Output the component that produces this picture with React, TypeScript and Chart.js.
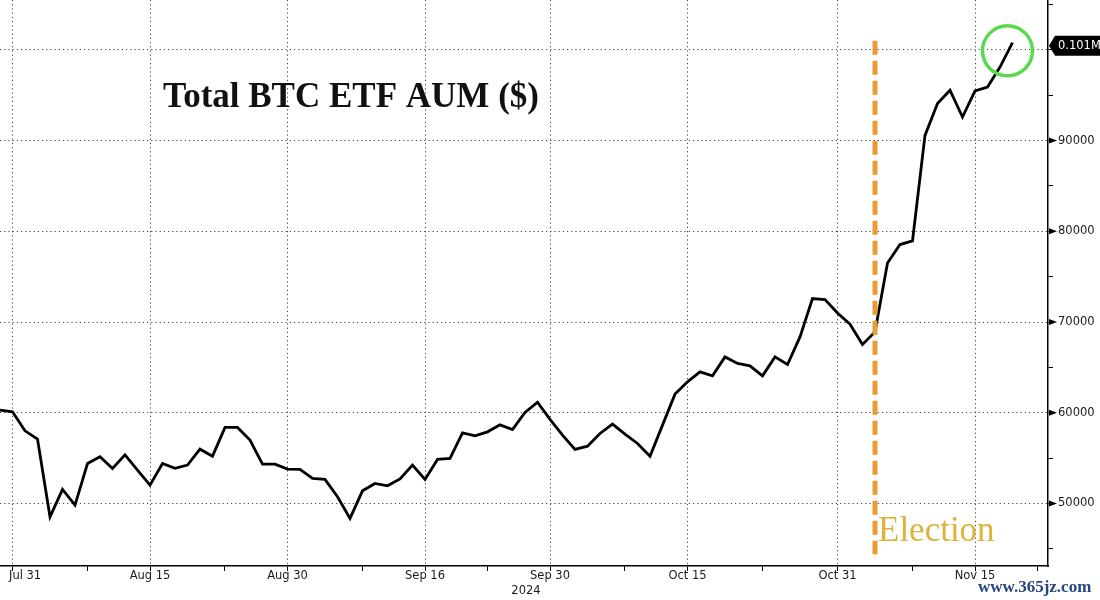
import React, { useEffect, useRef } from "react";
import { Chart, registerables } from "chart.js";

Chart.register(...registerables);

// ---------- data ----------
const dates: string[] = [
  "Jul 30", "Jul 31",
  "Aug 1", "Aug 2", "Aug 5", "Aug 6", "Aug 7", "Aug 8", "Aug 9", "Aug 12", "Aug 13", "Aug 14", "Aug 15",
  "Aug 16", "Aug 19", "Aug 20", "Aug 21", "Aug 22", "Aug 23", "Aug 26", "Aug 27", "Aug 28", "Aug 29", "Aug 30",
  "Sep 2", "Sep 3", "Sep 4", "Sep 5", "Sep 6", "Sep 9", "Sep 10", "Sep 11", "Sep 12", "Sep 13", "Sep 16",
  "Sep 17", "Sep 18", "Sep 19", "Sep 20", "Sep 23", "Sep 24", "Sep 25", "Sep 26", "Sep 27", "Sep 30",
  "Oct 1", "Oct 2", "Oct 3", "Oct 4", "Oct 7", "Oct 8", "Oct 9", "Oct 10", "Oct 11", "Oct 14", "Oct 15",
  "Oct 16", "Oct 17", "Oct 18", "Oct 21", "Oct 22", "Oct 23", "Oct 24", "Oct 25", "Oct 28", "Oct 29", "Oct 30", "Oct 31",
  "Nov 1", "Nov 4", "Nov 5", "Nov 6", "Nov 7", "Nov 8", "Nov 11", "Nov 12", "Nov 13", "Nov 14", "Nov 15",
  "Nov 18", "Nov 19", "Nov 20",
];

const aumValues: number[] = [
  60280, 60100,
  58000, 57100, 48520, 51540, 49810, 54400, 55140, 53860, 55360, 53670, 52020,
  54400, 53860, 54220, 55980, 55210, 58380, 58380, 56980, 54330, 54330, 53780,
  53750, 52750, 52650, 50730, 48350, 51390, 52200, 51940, 52700, 54220, 52640,
  54850, 54960, 57780, 57450, 57890, 58660, 58150, 60030, 61160, 59260,
  57530, 55950, 56310, 57710, 58740, 57640, 56610, 55210, 58630, 62050, 63400,
  64500, 64060, 66150, 65430, 65160, 64060, 66150, 65320, 68360, 72590, 72480, 71000,
  69760, 67520, 68910, 76510, 78540, 78940, 90570, 94080, 95550, 92600, 95470,
  95910, 98110, 100800,
];

const axisExtraDates: string[] = ["Nov 21", "Nov 22"];
const xLabelDates: string[] = ["Jul 31", "Aug 15", "Aug 30", "Sep 16", "Sep 30", "Oct 15", "Oct 31", "Nov 15"];
const xMinorDates: string[] = ["Aug 8", "Aug 23", "Sep 9", "Sep 23", "Oct 8", "Oct 23", "Nov 8", "Nov 22"];
const yearLabel = "2024";
const yearUnderDate = "Sep 30";

const yAllTicks: number[] = [45000, 50000, 55000, 60000, 65000, 70000, 75000, 80000, 85000, 90000, 95000, 100000, 105000];
const yGridTicks: number[] = [50000, 60000, 70000, 80000, 90000, 100000];
const yLabelTicks: number[] = [50000, 60000, 70000, 80000, 90000];
const yMin = 43100;
const yMax = 105500;
const xAxisEnd = 83.84;

const electionDate = "Nov 5";
const electionLabel = "Election";
const electionTop = 101000;
const electionBottom = 44400;

const titleText = "Total BTC ETF AUM ($)";
const lastValueLabel = "0.101M";
const watermark = "www.365jz.com";
const circleCenterIdx = 80.6;
const circleCenterValue = 99900;

// ---------- chart ----------
const allDates = [...dates, ...axisExtraDates];
const idxOf = (d: string) => allDates.indexOf(d);
const FONT = '"DejaVu Sans", sans-serif';

const overlay = {
  id: "overlay",
  afterDatasetsDraw(chart: any) {
    const { ctx, scales } = chart;
    const x = scales.x;
    const y = scales.y;
    const ex = x.getPixelForValue(idxOf(electionDate));
    ctx.save();
    ctx.strokeStyle = "#EB9A35";
    ctx.lineWidth = 5;
    ctx.setLineDash([14, 6]);
    ctx.beginPath();
    ctx.moveTo(ex, y.getPixelForValue(electionTop));
    ctx.lineTo(ex, y.getPixelForValue(electionBottom));
    ctx.stroke();
    ctx.restore();
  },
  afterDraw(chart: any) {
    const { ctx, scales, chartArea } = chart;
    const x = scales.x;
    const y = scales.y;
    ctx.save();

    // x labels
    ctx.font = `11.5px ${FONT}`;
    ctx.fillStyle = "#1a1a1a";
    ctx.textBaseline = "top";
    ctx.textAlign = "left";
    xLabelDates.forEach((d) => {
      const px = x.getPixelForValue(idxOf(d));
      const w = ctx.measureText(d).width;
      const left = Math.max(px - w / 2, chartArea.left + 9);
      ctx.fillText(d, left, chartArea.bottom + 4);
    });
    {
      const px = x.getPixelForValue(idxOf(yearUnderDate));
      ctx.textAlign = "center";
      ctx.fillText(yearLabel, px - 24, chartArea.bottom + 19);
    }

    // y triangles
    ctx.fillStyle = "#000";
    yLabelTicks.forEach((v) => {
      const py = y.getPixelForValue(v);
      ctx.beginPath();
      ctx.moveTo(chartArea.right + 1, py - 3);
      ctx.lineTo(chartArea.right + 1, py + 3);
      ctx.lineTo(chartArea.right + 9, py);
      ctx.closePath();
      ctx.fill();
    });

    // last value box
    const lastV = aumValues[aumValues.length - 1];
    const ly = y.getPixelForValue(lastV) + 3;
    const bx = chartArea.right + 1;
    ctx.fillStyle = "#000";
    ctx.beginPath();
    ctx.moveTo(bx, ly);
    ctx.lineTo(bx + 6, ly - 10);
    ctx.lineTo(1100, ly - 10);
    ctx.lineTo(1100, ly + 10);
    ctx.lineTo(bx + 6, ly + 10);
    ctx.closePath();
    ctx.fill();
    ctx.fillStyle = "#fff";
    ctx.font = `11.5px ${FONT}`;
    ctx.textAlign = "left";
    ctx.textBaseline = "middle";
    ctx.fillText(lastValueLabel, bx + 9, ly);

    // green circle
    ctx.strokeStyle = "#5BD94E";
    ctx.lineWidth = 3.5;
    ctx.beginPath();
    ctx.arc(x.getPixelForValue(circleCenterIdx), y.getPixelForValue(circleCenterValue), 25, 0, Math.PI * 2);
    ctx.stroke();

    // title
    ctx.fillStyle = "#111";
    ctx.font = 'bold 35px "Liberation Serif", serif';
    ctx.textAlign = "left";
    ctx.textBaseline = "alphabetic";
    ctx.fillText(titleText, 163, 107);

    // election label
    const ex = x.getPixelForValue(idxOf(electionDate));
    ctx.fillStyle = "#DDB33C";
    ctx.font = '35px "Liberation Serif", serif';
    ctx.fillText(electionLabel, ex + 3, 541);

    // watermark
    ctx.fillStyle = "#26477F";
    ctx.font = 'bold 17px "Liberation Serif", serif';
    ctx.fillText(watermark, 978, 592);

    ctx.restore();
  },
};

export default function App() {
  const canvasRef = useRef<HTMLCanvasElement | null>(null);

  useEffect(() => {
    if (!canvasRef.current) return;
    const xTickIdx = [...xLabelDates, ...xMinorDates].map(idxOf).sort((a, b) => a - b);
    const xLabelIdx = new Set(xLabelDates.map(idxOf));
    const yGridSet = new Set(yGridTicks);

    const chart = new Chart(canvasRef.current, {
      type: "line",
      data: {
        datasets: [
          {
            label: "Total BTC ETF AUM",
            data: aumValues.map((v, i) => ({ x: i, y: v })),
            borderColor: "#000",
            borderWidth: 2.8,
            pointRadius: 0,
            tension: 0,
            fill: false,
          },
        ],
      },
      options: {
        animation: false,
        responsive: false,
        devicePixelRatio: 1,
        layout: { padding: 0 },
        plugins: { legend: { display: false }, tooltip: { enabled: false }, title: { display: false } },
        scales: {
          x: {
            type: "linear",
            min: 0,
            max: xAxisEnd,
            afterBuildTicks: (axis: any) => {
              axis.ticks = xTickIdx.map((v) => ({ value: v }));
            },
            afterFit: (scale: any) => {
              scale.height = 34;
              scale.paddingLeft = 0;
              scale.paddingRight = 0;
            },
            ticks: { display: false, autoSkip: false, maxRotation: 0 },
            grid: {
              color: (c: any) => (c.tick && xLabelIdx.has(c.tick.value) ? "#444" : "transparent"),
              lineWidth: 1,
              tickColor: "#000",
              tickLength: 5,
              tickWidth: 1,
            },
            border: { display: true, color: "#000", width: 1.5, dash: [1.2, 3] },
          },
          y: {
            type: "linear",
            position: "right",
            min: yMin,
            max: yMax,
            afterBuildTicks: (axis: any) => {
              axis.ticks = yAllTicks.map((v) => ({ value: v }));
            },
            afterFit: (scale: any) => {
              scale.width = 52;
              scale.paddingTop = 0;
              scale.paddingBottom = 0;
            },
            ticks: {
              autoSkip: false,
              padding: 5,
              color: "#1a1a1a",
              font: { family: FONT, size: 11.5 },
              callback: (v: any) => (yLabelTicks.includes(Number(v)) ? String(v) : ""),
            },
            grid: {
              color: (c: any) => (c.tick && yGridSet.has(c.tick.value) ? "#444" : "transparent"),
              lineWidth: 1,
              tickColor: "#000",
              tickLength: 5,
              tickWidth: 1,
            },
            border: { display: true, color: "#000", width: 1.5, dash: [1.2, 3] },
          },
        },
      },
      plugins: [overlay],
    });
    return () => chart.destroy();
  }, []);

  return (
    <div style={{ position: "fixed", left: 0, top: 0, width: 1100, height: 600, background: "#fff" }}>
      <canvas ref={canvasRef} width={1100} height={600} style={{ display: "block" }} />
    </div>
  );
}
